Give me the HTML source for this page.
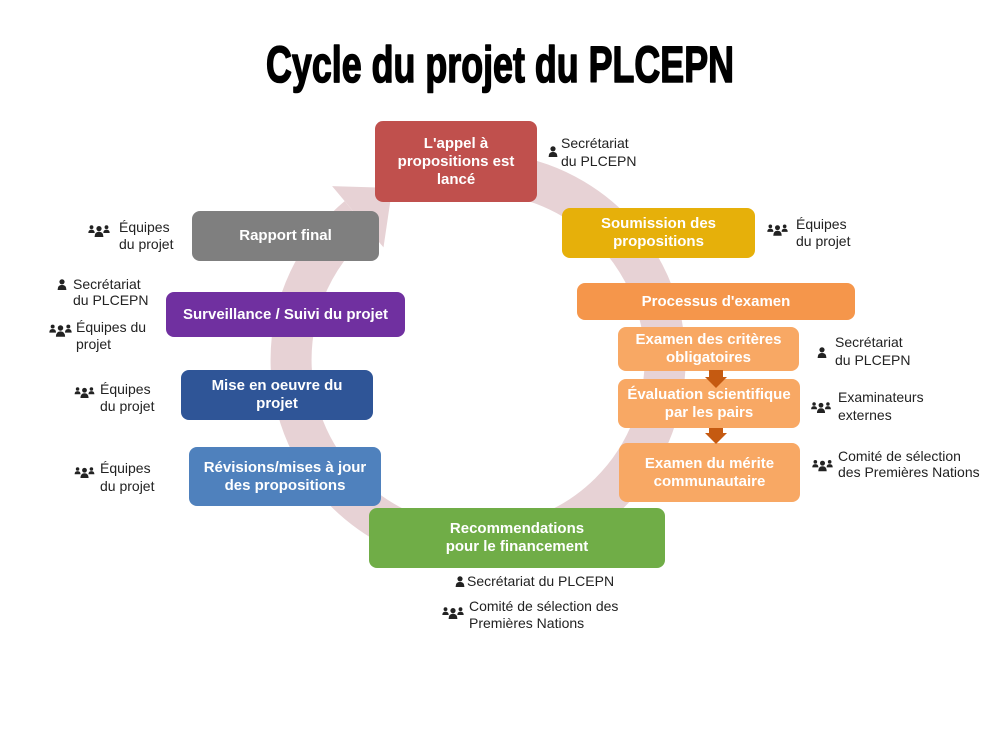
<!DOCTYPE html>
<html>
<head>
<meta charset="utf-8">
<style>
  html,body{margin:0;padding:0;background:#fff;}
  #wrap{position:relative;width:1000px;height:750px;overflow:hidden;background:#fff;font-family:"Liberation Sans",sans-serif;}
  svg.layer{position:absolute;left:0;top:0;}
  .box{position:absolute;display:flex;align-items:center;justify-content:center;text-align:center;color:#fff;font-weight:bold;font-size:15px;line-height:18px;border-radius:8px;box-sizing:border-box;}
  .lbl{position:absolute;font-size:14px;line-height:17px;color:#222;white-space:nowrap;}
</style>
</head>
<body>
<div id="wrap">
<svg class="layer" width="1000" height="750" viewBox="0 0 1000 750">
  <!-- ring -->
  <path d="M497.5,174 A187,187 0 1 1 357.8,216.8" fill="none" stroke="#e7d2d5" stroke-width="41"/>
  <polygon points="332.1,186.1 392.3,187.9 383.5,247.4" fill="#e7d2d5"/>
  <!-- title -->
  <text x="266" y="82" textLength="468" lengthAdjust="spacingAndGlyphs" font-family="Liberation Sans, sans-serif" font-size="51" font-weight="bold" fill="#000" stroke="#000" stroke-width="1.6" stroke-linejoin="round">Cycle du projet du PLCEPN</text>
</svg>

<div class="box" style="left:375px;top:121px;width:162px;height:81px;background:#c0504d;">L'appel à<br>propositions est<br>lancé</div>
<div class="box" style="left:562px;top:208px;width:193px;height:50px;background:#e6b00a;">Soumission des<br>propositions</div>
<div class="box" style="left:192px;top:211px;width:187px;height:50px;background:#7f7f7f;">Rapport final</div>
<div class="box" style="left:166px;top:292px;width:239px;height:45px;background:#7030a0;">Surveillance / Suivi du projet</div>
<div class="box" style="left:181px;top:370px;width:192px;height:50px;background:#2f5597;">Mise en oeuvre du<br>projet</div>
<div class="box" style="left:189px;top:447px;width:192px;height:59px;background:#4f81bd;">Révisions/mises à jour<br>des propositions</div>
<div class="box" style="left:577px;top:283px;width:278px;height:37px;background:#f5964b;">Processus d'examen</div>
<div class="box" style="left:618px;top:327px;width:181px;height:44px;background:#f8a864;">Examen des critères<br>obligatoires</div>
<div class="box" style="left:618px;top:379px;width:182px;height:49px;background:#f8a864;">Évaluation scientifique<br>par les pairs</div>
<div class="box" style="left:619px;top:443px;width:181px;height:59px;background:#f8a864;">Examen du mérite<br>communautaire</div>
<div class="box" style="left:369px;top:508px;width:296px;height:60px;background:#70ad47;">Recommendations<br>pour le financement</div>

<svg class="layer" width="1000" height="750" viewBox="0 0 1000 750">
  <defs>
    <symbol id="p1" viewBox="0 0 10 11">
      <circle cx="5" cy="2.8" r="2.6" fill="#222"/>
      <path d="M0.6,11 Q0.6,5.9 5,5.9 Q9.4,5.9 9.4,11 Z" fill="#222"/>
    </symbol>
    <symbol id="p3" viewBox="0 0 22 13">
      <circle cx="3.5" cy="3.2" r="1.9" fill="#222"/>
      <path d="M0.3,9 Q0.3,5.6 3.5,5.6 Q6.7,5.6 6.7,9 Z" fill="#222"/>
      <circle cx="18.5" cy="3.2" r="1.9" fill="#222"/>
      <path d="M15.3,9 Q15.3,5.6 18.5,5.6 Q21.7,5.6 21.7,9 Z" fill="#222"/>
      <circle cx="11" cy="4.6" r="2.6" fill="#222"/>
      <path d="M6.6,13 Q6.6,7.8 11,7.8 Q15.4,7.8 15.4,13 Z" fill="#222"/>
    </symbol>
  </defs>
  <!-- arrows between review boxes -->
  <rect x="709" y="370" width="14" height="8" fill="#c55a11"/>
  <polygon points="705,377 727,377 716,388" fill="#c55a11"/>
  <rect x="709" y="428" width="14" height="6" fill="#c55a11"/>
  <polygon points="705,433 727,433 716,444" fill="#c55a11"/>
  <!-- icons -->
  <use href="#p1" x="548" y="146" width="10" height="11"/>
  <use href="#p3" x="767" y="223" width="21" height="13"/>
  <use href="#p3" x="88" y="224" width="22" height="13"/>
  <use href="#p1" x="57" y="279" width="10" height="11"/>
  <use href="#p3" x="49" y="323" width="23" height="14"/>
  <use href="#p3" x="74" y="386" width="21" height="12"/>
  <use href="#p3" x="74" y="466" width="21" height="12"/>
  <use href="#p1" x="817" y="347" width="10" height="11"/>
  <use href="#p3" x="810" y="401" width="22" height="12"/>
  <use href="#p3" x="812" y="458" width="21" height="14"/>
  <use href="#p1" x="455" y="576" width="10" height="11"/>
  <use href="#p3" x="442" y="606" width="22" height="13"/>
</svg>

<div class="lbl" style="left:561px;top:134px;line-height:18px;">Secrétariat<br>du PLCEPN</div>
<div class="lbl" style="left:796px;top:216px;">Équipes<br>du projet</div>
<div class="lbl" style="left:119px;top:219px;">Équipes<br>du projet</div>
<div class="lbl" style="left:73px;top:276px;line-height:16px;">Secrétariat<br>du PLCEPN</div>
<div class="lbl" style="left:76px;top:319px;">Équipes du<br>projet</div>
<div class="lbl" style="left:100px;top:381px;">Équipes<br>du projet</div>
<div class="lbl" style="left:100px;top:459px;line-height:18px;">Équipes<br>du projet</div>
<div class="lbl" style="left:835px;top:333px;line-height:18px;">Secrétariat<br>du PLCEPN</div>
<div class="lbl" style="left:838px;top:388px;line-height:18px;">Examinateurs<br>externes</div>
<div class="lbl" style="left:838px;top:448px;line-height:16px;">Comité de sélection<br>des Premières Nations</div>
<div class="lbl" style="left:467px;top:573px;">Secrétariat du PLCEPN</div>
<div class="lbl" style="left:469px;top:598px;">Comité de sélection des<br>Premières Nations</div>
</div>
</body>
</html>
